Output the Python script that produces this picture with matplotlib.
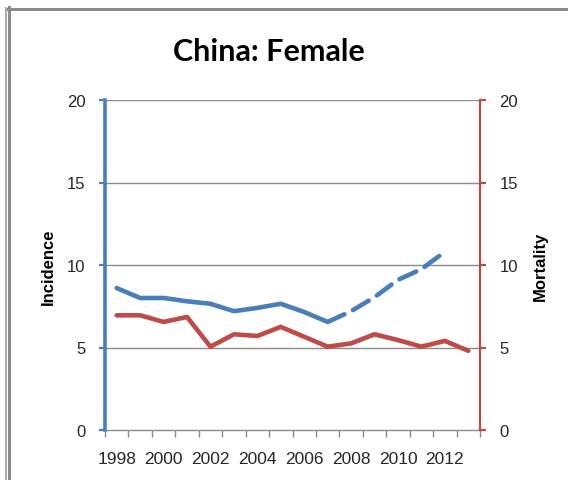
import matplotlib
matplotlib.use("Agg")
import matplotlib.pyplot as plt
from matplotlib.lines import Line2D
import numpy as np

years = list(range(1998, 2014))
incidence_observed = [8.6, 8.0, 8.0, 7.8, 7.65, 7.2, 7.4, 7.65, 7.15, 6.55]  # 1998-2007
incidence_projected = [6.55, 7.2, 8.05, 9.1, 9.75, 10.8]                      # 2007-2012
mortality = [6.95, 6.95, 6.55, 6.85, 5.05, 5.8, 5.7, 6.25, 5.65, 5.05,
             5.25, 5.8, 5.45, 5.05, 5.4, 4.8]                                  # 1998-2013
yticks = [0, 5, 10, 15, 20]
xlabels = ["1998", "2000", "2002", "2004", "2006", "2008", "2010", "2012"]

BLUE = "#4A7EBB"
RED = "#BE4B48"
GRID = "#8C8C8C"
TXT = "#262626"

W, H = 568, 481
fig = plt.figure(figsize=(W / 100, H / 100), dpi=100)
fig.patch.set_facecolor("white")

def fx(px):
    return px / W

def fy(py):
    return 1 - py / H

# outer frame lines
fig.add_artist(Line2D([fx(5.5), fx(5.5)], [fy(9), fy(481)], color="#A0A0A0", lw=1.2,
                      transform=fig.transFigure))
fig.add_artist(Line2D([fx(9), fx(9)], [fy(8), fy(481)], color="#8A8A8A", lw=2.2,
                      transform=fig.transFigure))
fig.add_artist(Line2D([fx(8), fx(568)], [fy(9.5), fy(9.5)], color="#8A8A8A", lw=2.2,
                      transform=fig.transFigure))

left, right, top, bottom = 105, 480, 101, 431
ax = fig.add_axes([fx(left), fy(bottom), fx(right) - fx(left), fy(top) - fy(bottom)])
ax2 = ax.twinx()

n = len(years)
xpos = np.arange(n)
ax.set_xlim(-0.5, n - 0.5)
ax.set_ylim(0, 20)
ax2.set_ylim(0, 20)

ax.set_yticks(yticks)
ax2.set_yticks(yticks)
for y in yticks[1:]:
    ax.axhline(y, color=GRID, lw=1.0, zorder=0)

# lines
n_obs = len(incidence_observed)
ax.plot(xpos[:n_obs], incidence_observed, color=BLUE, lw=3.3,
        solid_capstyle="round", solid_joinstyle="round", zorder=3)
ax.plot(xpos[n_obs - 1:n_obs - 1 + len(incidence_projected)],
        incidence_projected, color=BLUE, lw=3.3, dashes=(4.0, 2.1),
        dash_capstyle="round", zorder=3)
ax2.plot(xpos, mortality, color=RED, lw=3.3, solid_capstyle="round",
         solid_joinstyle="round", zorder=3)

# spines
for a in (ax, ax2):
    a.spines["top"].set_visible(False)
ax.spines["right"].set_visible(False)
ax.spines["left"].set_color(BLUE)
ax.spines["left"].set_linewidth(2.6)
ax.spines["bottom"].set_color(GRID)
ax.spines["bottom"].set_linewidth(1.0)
ax2.spines["left"].set_visible(False)
ax2.spines["bottom"].set_visible(False)
ax2.spines["right"].set_color(RED)
ax2.spines["right"].set_linewidth(1.6)

# x ticks: tick marks at category boundaries, labels at every second category
ax.set_xticks(xpos[::2])
ax.set_xticklabels(xlabels)
ax.set_xticks(np.arange(-0.5, n, 1.0), minor=True)
ax.tick_params(axis="x", which="minor", direction="out", length=5, width=1.0, color=GRID)
ax.tick_params(axis="x", which="major", length=0, pad=15, labelsize=12.5, labelcolor=TXT)

ax.tick_params(axis="y", direction="out", length=4, width=1.6, color=BLUE,
               labelsize=12, labelcolor=TXT, pad=10)
ax2.tick_params(axis="y", direction="out", length=4, width=1.6, color=RED,
                labelsize=12, labelcolor=TXT, pad=10)

for lab in ax.get_xticklabels() + ax.get_yticklabels() + ax2.get_yticklabels():
    lab.set_fontfamily("Liberation Sans")

fig.text(fx(48.5), fy(267), "Incidence", rotation=90, ha="center", va="center",
         fontsize=12, fontweight="bold", family="Liberation Sans", color="black")
fig.text(fx(540), fy(266), "Mortality", rotation=90, ha="center", va="center",
         fontsize=12, fontweight="bold", family="Liberation Sans", color="black")

fig.text(fx(268.5), fy(52), "China: Female", ha="center", va="center",
         fontsize=22, fontweight="bold", family="Lato", color="black")

fig.savefig("out.png", dpi=100, facecolor="white")
